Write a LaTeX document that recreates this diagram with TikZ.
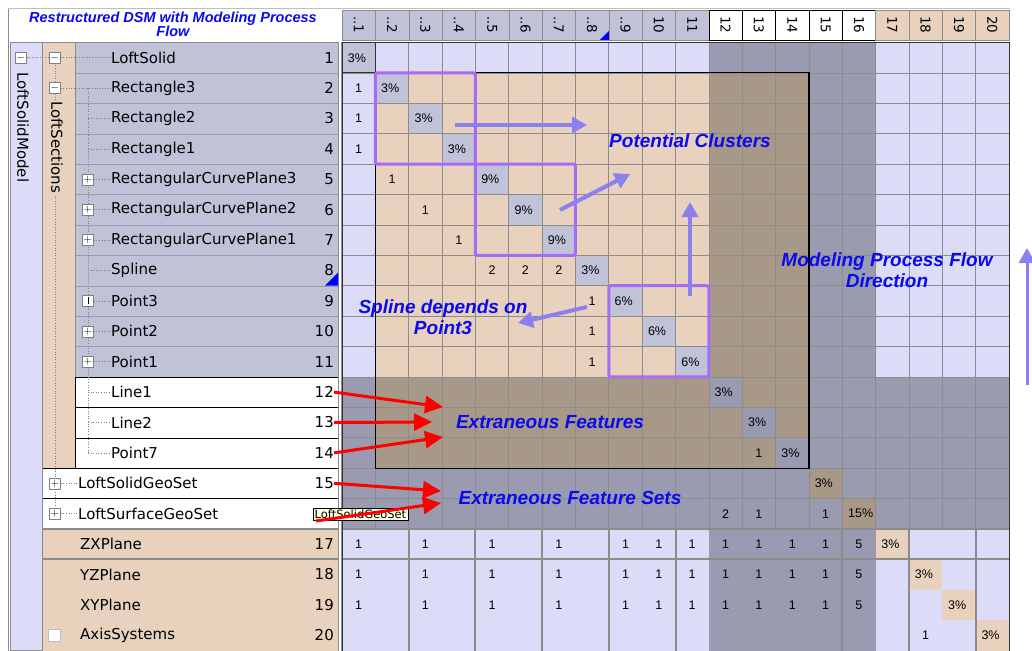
\documentclass[tikz,border=0pt]{standalone}
\usepackage{fontspec}
\setmainfont{DejaVu Sans}
\newfontfamily\dsmsans{Liberation Sans}
\usetikzlibrary{arrows.meta, positioning}

\definecolor{lavcell}{HTML}{DCDCF8}
\definecolor{peachcell}{HTML}{E8D1BD}
\definecolor{slatecell}{HTML}{C0C2D8}
\definecolor{graycell}{HTML}{9A9AB0}
\definecolor{browncell}{HTML}{A89888}
\definecolor{gridline}{HTML}{8C8C8C}
\definecolor{clusterpurple}{HTML}{A66CF5}
\definecolor{flowblue}{HTML}{8A80F0}
\definecolor{notetext}{HTML}{0A0AF0}
\definecolor{tipyellow}{HTML}{FFFFE1}

\newcommand{\treeminus}{\fontsize{11}{11}\selectfont$-$}
\newcommand{\treeplus}{\fontsize{11}{11}\selectfont$+$}

\tikzset{
  dsmgrid/.style={draw=gridline, line width=0.7pt},
  valtext/.style={font=\dsmsans\fontsize{12.5}{12.5}\selectfont, inner sep=0pt},
  diagtext/.style={valtext, anchor=west},
  rowlabel/.style={font=\fontsize{15}{15}\selectfont, anchor=west, inner sep=0pt},
  rownum/.style={font=\fontsize{15}{15}\selectfont, anchor=east, inner sep=0pt},
  colhead/.style={font=\fontsize{13.5}{13.5}\selectfont, rotate=-90, inner sep=0pt},
  treelabel/.style={font=\fontsize{15}{15}\selectfont, rotate=-90, inner sep=1pt, anchor=west},
  dsmnote/.style={font=\dsmsans\bfseries\itshape\fontsize{19}{21}\selectfont,
                  text=notetext, align=center, inner sep=0pt},
  cluster/.style={draw=clusterpurple, line width=3pt, rounded corners=2pt},
  flowarrow/.style={draw=flowblue, line width=4pt, -{Triangle[length=15pt, width=16pt]}},
  redarrow/.style={draw=red, line width=3pt, -{Triangle[length=18pt, width=17pt]}},
  treebox/.style={draw=gray, fill=white, minimum size=11pt, inner sep=0pt},
  treeline/.style={draw=gray, dotted, line width=0.6pt},
}

\begin{document}
\begin{tikzpicture}[x=1pt, y=-1pt]
  \useasboundingbox (0,0) rectangle (1032,650);
  \fill[white] (0,0) rectangle (1032,650);
  \draw[gray!50] (8,8) -- (1010,8);

  % title
  \node[font=\dsmsans\bfseries\itshape\fontsize{14.5}{14}\selectfont, text=notetext,
        align=center, inner sep=0pt] (title) at (173,24)
    {Restructured DSM with Modeling Process\\Flow};

  % left tree panel
  \begin{scope}[shift={(0,42.5)}, y=-30.4pt]
    \fill[lavcell] (10,0) rectangle (42,20);
    \fill[peachcell] (42,0) rectangle (75,14);
    \fill[slatecell] (75,0) rectangle (338,11);
    \foreach \r in {1,...,10} \draw[graycell] (75,\r) -- (338,\r);
    \draw[black, fill=white] (75,11) rectangle (338,14);
    \draw[black] (75,12) -- (338,12) (75,13) -- (338,13);
    \draw[black, fill=white] (42,14) rectangle (338,16);
    \draw[black] (42,15) -- (338,15);
    \fill[peachcell] (42,16) rectangle (338,20);
    \draw[gridline, line width=2pt] (42,16) -- (338,16) (42,17) -- (338,17);
    \draw[gridline] (10,0) rectangle (42,20) (42,0) -- (338,0) (42,0) -- (42,14) (75,0) -- (75,11);
    \draw[gridline] (338,0) -- (338,20) (341,0) -- (341,20);
    \draw[gridline] (8,-1.1) -- (8,20);
    \fill[blue] (338,8) -- (325,8) -- (338,7.57) -- cycle;

    \draw[treeline] (55,0.5) -- (55,15.5);
    \draw[treeline] (88,1.5) -- (88,13.5);

    \node[treebox] (bx-model) at (21,0.5) {\treeminus};
    \node[treebox] (bx-sec) at (55,0.5) {\treeminus};
    \node[treebox] (bx-rect) at (55,1.5) {\treeminus};
    \foreach \r in {5,6,7,10,11} \node[treebox] (bx\r) at (88,\r-0.5) {\treeplus};
    \node[treebox] (bx9) at (88,8.5) {\rule[-3.5pt]{0.7pt}{7pt}};
    \node[treebox] (bx15) at (55,14.5) {\treeplus};
    \node[treebox] (bx16) at (55,15.5) {\treeplus};
    \node[draw=gray!50, fill=white, minimum size=12pt, inner sep=0pt] (bx20) at (54,19.5) {};

    \node[treelabel] (model) at (23,0.95) {LoftSolidModel};
    \node[treelabel, fill=peachcell] (sections) at (57,1.9) {LoftSections};

    \foreach \r/\t in {1/LoftSolid, 2/Rectangle3, 3/Rectangle2, 4/Rectangle1,
                       5/RectangularCurvePlane3, 6/RectangularCurvePlane2,
                       7/RectangularCurvePlane1, 8/Spline, 9/Point3, 10/Point2,
                       11/Point1, 12/Line1, 13/Line2, 14/Point7}
      \node[rowlabel] (t\r) at (111,\r-0.5) {\t};
    \node[rowlabel] (t15) at (78,14.5) {LoftSolidGeoSet};
    \node[rowlabel] (t16) at (78,15.5) {LoftSurfaceGeoSet};
    \foreach \r/\t in {17/ZXPlane, 18/YZPlane, 19/XYPlane, 20/AxisSystems}
      \node[rowlabel] (t\r) at (80,\r-0.5) {\t};
    \foreach \r in {1,...,15,17,18,19,20} \node[rownum] (n\r) at (334,\r-0.5) {\r};

    \draw[treeline] (bx-model.east) -- (bx-sec.west);
    \draw[treeline] (bx-sec.east) -- (t1.west);
    \draw[treeline] (bx-rect.east) -- (t2.west);
    \foreach \r in {3,4,8,12,13,14} \draw[treeline] (88,\r-0.5) -- (t\r.west);
    \foreach \r in {5,6,7,9,10,11} \draw[treeline] (bx\r.east) -- (t\r.west);
    \draw[treeline] (bx15.east) -- (t15.west);
    \draw[treeline] (bx16.east) -- (t16.west);
  \end{scope}

  % column headers
  \begin{scope}[shift={(342,0)}, x=33.35pt]
    \foreach \c in {1,...,11}
      \draw[draw=gridline, fill=slatecell] (\c-1,10) rectangle (\c,40);
    \foreach \c in {12,...,16}
      \draw[draw=black, fill=white] (\c-1,10) rectangle (\c,40);
    \foreach \c in {17,...,20}
      \draw[draw=gridline, fill=peachcell] (\c-1,10) rectangle (\c,40);
    \foreach \c in {1,...,9}
      \node[colhead] (h\c) at (\c-0.5,25) {..\c};
    \foreach \c in {10,...,20}
      \node[colhead] (h\c) at (\c-0.5,25) {\c};
    \fill[blue] (8,40) -- (8,31) -- (7.73,40) -- cycle;
  \end{scope}

  % matrix
  \begin{scope}[shift={(342,42.5)}, x=33.35pt, y=-30.4pt]
    \fill[lavcell] (0,0) rectangle (20,20);
    \fill[peachcell] (1,1) rectangle (11,11);
    \fill[graycell] (11,0) rectangle (16,1);
    \fill[browncell] (11,1) rectangle (14,11);
    \fill[browncell] (1,11) rectangle (14,14);
    \fill[graycell] (14,1) rectangle (16,20);
    \fill[graycell] (16,11) rectangle (20,16);
    \fill[graycell] (0,14) rectangle (14,16);
    \fill[graycell] (0,11) rectangle (1,14);
    \fill[graycell] (11,16) rectangle (14,20);

    \foreach \r in {1,...,11} \fill[slatecell] (\r-1,\r-1) rectangle (\r,\r);
    \foreach \r in {12,13,14} \fill[graycell] (\r-1,\r-1) rectangle (\r,\r);
    \foreach \r in {15,16} \fill[browncell] (\r-1,\r-1) rectangle (\r,\r);
    \foreach \r in {17,...,20} \fill[peachcell] (\r-1,\r-1) rectangle (\r,\r);

    \foreach \k in {0,...,20} \draw[dsmgrid] (\k,0) -- (\k,16);
    \foreach \k in {0,...,16} \draw[dsmgrid] (0,\k) -- (20,\k);
    \foreach \k in {0,2,4,6,8,10,15,17,19}
      \draw[gridline, line width=2pt] (\k,16) -- (\k,20);
    \draw[gridline, line width=2pt] (0,16) -- (20,16) (0,17) -- (20,17);
    \draw[gray!40!black, line width=1pt] (0,20) -- (0,0) -- (20,0) -- (20,20);
    \draw[black, line width=1.2pt] (1,1) rectangle (14,14);
    \draw[gray!40!black, line width=0.8pt] (0,0) rectangle (1,1);

    \foreach \r/\v in {1/3,2/3,3/3,4/3,5/9,6/9,7/9,8/3,9/6,10/6,11/6,
                       12/3,13/3,14/3,15/3,16/15,17/3,18/3,19/3,20/3}
      \node[diagtext] (d\r) at (\r-0.83,\r-0.5) {\v\%};
    \foreach \r/\c/\v in {2/1/1, 3/1/1, 4/1/1, 5/2/1, 6/3/1, 7/4/1,
                          8/5/2, 8/6/2, 8/7/2, 9/8/1, 10/8/1, 11/8/1,
                          14/13/1, 16/12/2, 16/13/1, 16/15/1, 20/18/1}
      \node[valtext] (v\r-\c) at (\c-0.5,\r-0.5) {\v};
    \foreach \r in {17,18,19} {
      \foreach \c in {1,3,5,7,9,10,11,12,13,14,15}
        \node[valtext] (v\r-\c) at (\c-0.5,\r-0.5) {1};
      \node[valtext] (v\r-16) at (15.5,\r-0.5) {5};
    }

    \draw[cluster] (1,1) rectangle (4,4);
    \draw[cluster] (4,4) rectangle (7,7);
    \draw[cluster] (8,8) rectangle (11,11);
  \end{scope}

  % annotations
  \node[dsmnote] (potential) at (690,141) {Potential Clusters};
  \node[dsmnote] (flowdir) at (887,270) {Modeling Process Flow\\Direction};
  \node[dsmnote] (splinedep) at (443,317) {Spline depends on\\Point3};
  \node[dsmnote] (extfeat) at (550,422) {Extraneous Features};
  \node[dsmnote] (extsets) at (570,498) {Extraneous Feature Sets};

  \coordinate (cl1-from) at (455,125);
  \coordinate (cl1-to) at (587,125);
  \coordinate (cl2-from) at (560,210);
  \coordinate (cl2-to) at (630,174);
  \coordinate (cl3-from) at (690,296);
  \coordinate (cl3-to) at (690,202);
  \coordinate (dep-from) at (587,307);
  \coordinate (dep-to) at (518,323);
  \coordinate (flow-from) at (1027,385);
  \coordinate (flow-to) at (1027,248);

  \draw[flowarrow] (cl1-from) -- (cl1-to);
  \draw[flowarrow] (cl2-from) -- (cl2-to);
  \draw[flowarrow] (cl3-from) -- (cl3-to);
  \draw[flowarrow] (dep-from) -- (dep-to);
  \draw[flowarrow, line width=3pt] (flow-from) -- (flow-to);

  % tooltip over row 16
  \node[draw=black, fill=tipyellow, font=\fontsize{11.5}{11.5}\selectfont,
        inner sep=1.5pt, anchor=west] (tip) at (313,514.5) {LoftSolidGeoSet};

  \coordinate (ef1) at (443,407);
  \coordinate (ef2) at (432,422);
  \coordinate (ef3) at (443,437);
  \coordinate (fs1) at (441,491);
  \coordinate (fs2) at (441,503);
  \coordinate (fs2-start) at (316,521);

  \draw[redarrow] (n12.east) -- (ef1);
  \draw[redarrow] (n13.east) -- (ef2);
  \draw[redarrow] (n14.east) -- (ef3);
  \draw[redarrow] (n15.east) -- (fs1);
  \draw[redarrow] (fs2-start) -- (fs2);
\end{tikzpicture}
\end{document}
